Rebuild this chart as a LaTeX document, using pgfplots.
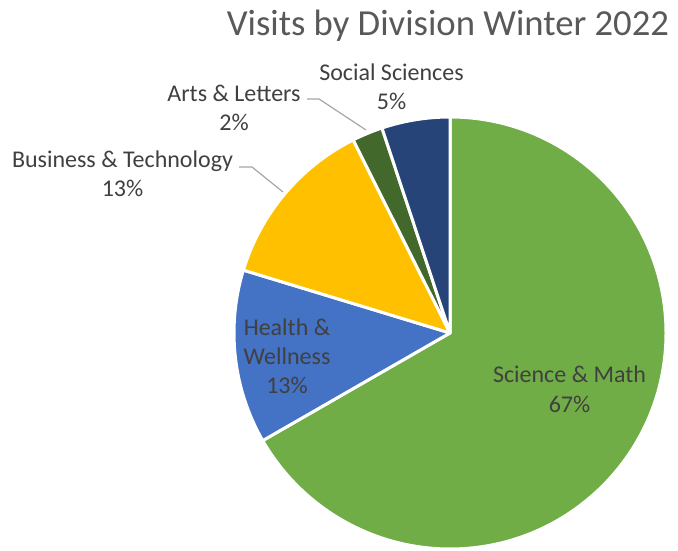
\documentclass[border=0pt]{standalone}
\usepackage{pgfplots}
\pgfplotsset{compat=1.18}
\usepackage{pgfplotstable}
\usepackage{fontspec}
\setmainfont{Carlito}
\definecolor{cSci}{HTML}{70AD47}
\definecolor{cHea}{HTML}{4472C4}
\definecolor{cBus}{HTML}{FFC000}
\definecolor{cArt}{HTML}{43682B}
\definecolor{cSoc}{HTML}{264478}
\definecolor{txt}{HTML}{404040}
\definecolor{ttl}{HTML}{595959}
\definecolor{lead}{HTML}{A6A6A6}

% share of visits (percent), clockwise from 12 o'clock
\pgfplotstableread{
name value color
Science 66.7 cSci
Health 13.0 cHea
Business 12.9 cBus
Arts 2.3 cArt
Social 5.1 cSoc
}\piedata

\begin{document}
\begin{tikzpicture}[
  lbl/.style={font=\fontsize{24bp}{29bp}\selectfont, text=txt, anchor=base, inner sep=0pt},
]
\begin{axis}[
  width=678bp, height=550bp, scale only axis,
  xmin=0, xmax=678, ymin=0, ymax=550,
  hide axis, clip=false,
]
\path (axis cs:0,0) rectangle (axis cs:678,550);
\pgfplotsextra{
  \gdef\cum{0}
  \foreach \i in {0,...,4}{
    \pgfplotstablegetelem{\i}{value}\of\piedata \let\v\pgfplotsretval
    \pgfplotstablegetelem{\i}{color}\of\piedata \let\c\pgfplotsretval
    \pgfmathsetmacro\sa{90-3.6*\cum}
    \pgfmathsetmacro\ea{90-3.6*(\cum+\v)}
    \filldraw[fill=\c, draw=white, line width=3bp, line join=round]
      (axis cs:450,217) -- ++(\sa:216bp) arc[start angle=\sa, end angle=\ea, radius=216bp] -- cycle;
    \pgfmathsetmacro\nc{\cum+\v}
    \xdef\cum{\nc}
  }
}
% title
\node[font=\fontsize{36.7bp}{44bp}\selectfont, text=ttl, anchor=base, inner sep=0pt] at (axis cs:448,514) {Visits by Division Winter 2022};
% leader lines
\draw[lead, line width=1.2bp] (axis cs:239,383) -- (axis cs:252,383) -- (axis cs:283,358);
\draw[lead, line width=1.2bp] (axis cs:307,451) -- (axis cs:319,451) -- (axis cs:366,420);
% labels
\node[lbl] at (axis cs:391.5,469) {Social Sciences};
\node[lbl] at (axis cs:391.5,440.5) {5\%};
\node[lbl] at (axis cs:234,448) {Arts \& Letters};
\node[lbl] at (axis cs:234,419) {2\%};
\node[lbl] at (axis cs:122.5,382.5) {Business \& Technology};
\node[lbl] at (axis cs:122.5,353.3) {13\%};
\node[lbl] at (axis cs:287,214) {Health \&};
\node[lbl] at (axis cs:287,185) {Wellness};
\node[lbl] at (axis cs:287,156) {13\%};
\node[lbl] at (axis cs:569.5,167) {Science \& Math};
\node[lbl] at (axis cs:569.5,137.5) {67\%};
\end{axis}
\end{tikzpicture}
\end{document}
